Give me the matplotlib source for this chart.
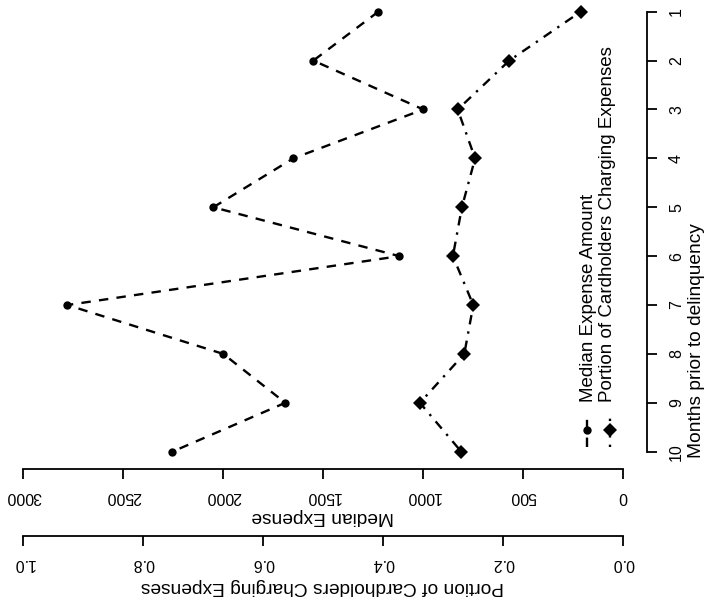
import matplotlib
matplotlib.use("Agg")
import matplotlib.pyplot as plt
from matplotlib.lines import Line2D

months = [1, 2, 3, 4, 5, 6, 7, 8, 9, 10]
median_expense = [1225, 1550, 1000, 1650, 2050, 1120, 2780, 2000, 1690, 2255]
portion_charging = [0.071, 0.190, 0.276, 0.247, 0.269, 0.284, 0.250, 0.265, 0.339, 0.270]

month_ticks = [1, 2, 3, 4, 5, 6, 7, 8, 9, 10]
expense_ticks = [0, 500, 1000, 1500, 2000, 2500, 3000]
portion_ticks = [0.0, 0.2, 0.4, 0.6, 0.8, 1.0]
portion_tick_labels = ["0.0", "0.2", "0.4", "0.6", "0.8", "1.0"]

W, H = 706, 605
plt.rcParams['font.family'] = ['Liberation Sans', 'DejaVu Sans']


def fx(x):
    return x / W


def fy(y):
    return (H - y) / H


fig = plt.figure(figsize=(W / 100, H / 100), dpi=100)
# the whole chart is drawn turned a quarter turn: expense runs right to left, months top to bottom
ax = fig.add_axes([fx(-0.7), fy(469.3), (647.3 + 0.7) / W, 475.2 / H])
ax.patch.set_visible(False)

ax.plot(median_expense, months, color='black', lw=1.7, dashes=(4, 3.5),
        marker='o', ms=6, mew=0, clip_on=False)
ax.set_xlim(3120, -120)
ax.set_ylim(10.36, 0.64)

for side in ['top', 'left']:
    ax.spines[side].set_visible(False)
ax.spines['right'].set_bounds(1, 10)
ax.spines['bottom'].set_bounds(0, 3000)
for side in ['right', 'bottom']:
    ax.spines[side].set_linewidth(1.3)

ax.yaxis.tick_right()
ax.set_yticks(month_ticks)
ax.set_xticks(expense_ticks)
ax.tick_params(axis='both', direction='out', length=7.2, width=1.3, labelsize=11.5)
ax.tick_params(axis='y', pad=8.5)
ax.tick_params(axis='x', pad=6.8)
for lbl in ax.get_yticklabels():
    lbl.set_rotation(90)
    lbl.set_ha('left')
    lbl.set_va('center')
for lbl in ax.get_xticklabels():
    lbl.set_rotation(180)

# second scale: portion of cardholders
ax2 = ax.twiny()
ax2.xaxis.tick_bottom()
ax2.plot(portion_charging, months, color='black', lw=1.7, dashes=(1, 3, 4, 3),
         marker='D', ms=7, mew=0, clip_on=False)
ax2.set_xlim(1.04, -0.04)
for side in ['top', 'left', 'right']:
    ax2.spines[side].set_visible(False)
ax2.spines['bottom'].set_bounds(0, 1)
ax2.spines['bottom'].set_position(('outward', 48.2))
ax2.spines['bottom'].set_linewidth(1.3)
ax2.set_xticks(portion_ticks)
ax2.set_xticklabels(portion_tick_labels)
ax2.tick_params(axis='x', direction='out', length=7.2, width=1.3, labelsize=11.5, pad=6.8)
for lbl in ax2.get_xticklabels():
    lbl.set_rotation(180)

# axis titles
fig.text(fx(323), fy(512), "Median Expense", rotation=180, rotation_mode='anchor',
         ha='center', va='baseline', fontsize=13.8)
fig.text(fx(322), fy(581.7), "Portion of Cardholders Charging Expenses", rotation=180,
         rotation_mode='anchor', ha='center', va='baseline', fontsize=13.8)
fig.text(fx(701), fy(341), "Months prior to delinquency", rotation=90, rotation_mode='anchor',
         ha='center', va='baseline', fontsize=13.8)

# legend, drawn by hand since it is turned too
legend_items = [
    ("Median Expense Amount", 'o', 6, (4, 3.5), 587, 593),
    ("Portion of Cardholders Charging Expenses", 'D', 7, (1, 3, 4, 3), 610, 612),
]
for label, marker, ms, dashes, kx, tx in legend_items:
    fig.add_artist(Line2D([fx(kx), fx(kx)], [fy(447), fy(413)], transform=fig.transFigure,
                          color='black', lw=1.7, dashes=dashes))
    fig.add_artist(Line2D([fx(kx)], [fy(430)], transform=fig.transFigure,
                          color='black', marker=marker, ms=ms, mew=0, ls='none'))
    fig.text(fx(tx), fy(402), label, rotation=90, rotation_mode='anchor',
             ha='left', va='baseline', fontsize=13.5)

fig.savefig("out.png", dpi=100)
